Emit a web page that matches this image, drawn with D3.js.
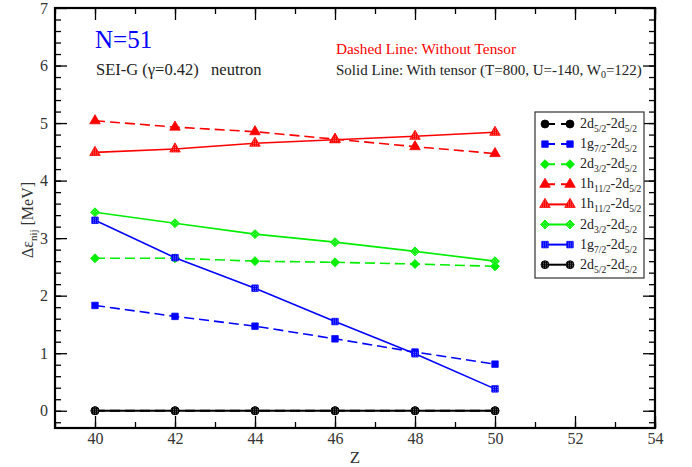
<!DOCTYPE html>
<html>
<head>
<meta charset="utf-8">
<script src="https://cdn.jsdelivr.net/npm/d3@7"></script>
<style>
html,body{margin:0;padding:0;background:#fff;}
svg{display:block;font-family:"Liberation Serif","Times New Roman",serif;}
svg text{font-family:"Liberation Serif","Times New Roman",serif;}
</style>
</head>
<body>
<svg id="chart" width="692" height="467"></svg>
<script>
// ---- data ----
const zValues = [40, 42, 44, 46, 48, 50];
const xTicks = [40, 42, 44, 46, 48, 50, 52, 54];
const yTicks = [0, 1, 2, 3, 4, 5, 6, 7];

const d52_noT = [0, 0, 0, 0, 0, 0];
const g72_noT = [1.83, 1.64, 1.47, 1.25, 1.02, 0.81];
const d32_noT = [2.65, 2.65, 2.60, 2.58, 2.55, 2.51];
const h112_noT = [5.04, 4.93, 4.85, 4.72, 4.59, 4.47];
const h112_T = [4.49, 4.55, 4.65, 4.71, 4.77, 4.84];
const d32_T = [3.45, 3.26, 3.07, 2.93, 2.77, 2.60];
const g72_T = [3.31, 2.66, 2.13, 1.55, 0.99, 0.38];
const d52_T = [0, 0, 0, 0, 0, 0];

const seriesNames = [
  ["2d","5/2","-2d","5/2"],
  ["1g","7/2","-2d","5/2"],
  ["2d","3/2","-2d","5/2"],
  ["1h","11/2","-2d","5/2"],
  ["1h","11/2","-2d","5/2"],
  ["2d","3/2","-2d","5/2"],
  ["1g","7/2","-2d","5/2"],
  ["2d","5/2","-2d","5/2"]
];
const seriesValues = [d52_noT, g72_noT, d32_noT, h112_noT, h112_T, d32_T, g72_T, d52_T];
const seriesColors = ["#000000","#0000ff","#00ee00","#ff0000","#ff0000","#00ee00","#0000ff","#000000"];
const seriesDashed = [true, true, true, true, false, false, false, false];
const seriesSymbols = ["circle","square","diamond","triangle","triangle","diamond","square","circle"];

// ---- layout ----
const svg = d3.select("#chart");
const x = d3.scaleLinear().domain([39, 54]).range([55, 655]);
const y = d3.scaleLinear().domain([-0.3, 7]).range([428, 8]);

const symMap = {circle: d3.symbolCircle, square: d3.symbolSquare, diamond: d3.symbolSquare, triangle: d3.symbolTriangle};
const symSize = {circle: 50, square: 42, diamond: 40, triangle: 48};
const symRot = {circle: 0, square: 0, diamond: 45, triangle: 0};

// pattern fills for solid-line markers
const palette = ["#000000","#0000ff","#00ee00","#ff0000"];
const defs = svg.append("defs");
palette.forEach((c, i) => {
  const p = defs.append("pattern").attr("id", "pat" + i)
    .attr("width", 2).attr("height", 2).attr("patternUnits", "userSpaceOnUse");
  p.append("rect").attr("width", 2).attr("height", 2).attr("fill", c);
  p.append("rect").attr("width", 1).attr("height", 1).attr("fill", "#fff").attr("opacity", 0.45);
});
const patId = c => "url(#pat" + palette.indexOf(c) + ")";

// ---- axes ----
const minorX = d3.range(39, 54.01, 1);
const minorY = d3.range(-0.2, 7.0, 0.2);

function drawAxis(makeGen, transform, majors, minors, labels) {
  const gMinor = svg.append("g").attr("transform", transform)
    .call(makeGen().tickValues(minors).tickSize(-6).tickFormat(""));
  gMinor.select(".domain").remove();
  const g = svg.append("g").attr("transform", transform)
    .call(makeGen().tickValues(majors).tickSize(-12).tickPadding(8).tickFormat(labels ? d3.format("d") : ""));
  g.select(".domain").remove();
  g.attr("font-family", "Liberation Serif").attr("font-size", 16);
  g.selectAll("line").attr("stroke", "#000").attr("stroke-width", 1.3);
  gMinor.selectAll("line").attr("stroke", "#000").attr("stroke-width", 1.3);
  g.selectAll("text").attr("font-size", 16).attr("fill", "#333");
  return g;
}
const bottomG = drawAxis(() => d3.axisBottom(x), "translate(0,428)", xTicks, minorX, true);
bottomG.selectAll("text").attr("dy", "0").attr("y", 16);
drawAxis(() => d3.axisTop(x), "translate(0,8)", xTicks, minorX, false);
const leftG = drawAxis(() => d3.axisLeft(y), "translate(55,0)", yTicks, minorY, true);
leftG.selectAll("text").attr("x", -7);
drawAxis(() => d3.axisRight(y), "translate(655,0)", yTicks, minorY, false);

// frame
svg.append("rect").attr("x", 55).attr("y", 8).attr("width", 600).attr("height", 420)
  .attr("fill", "none").attr("stroke", "#000").attr("stroke-width", 2.2);

// ---- series ----
function marker(sel, s) {
  const sym = seriesSymbols[s];
  sel.attr("d", d3.symbol().type(symMap[sym]).size(symSize[sym]))
    .attr("fill", seriesDashed[s] ? seriesColors[s] : patId(seriesColors[s]))
    .attr("stroke", seriesColors[s]).attr("stroke-width", 0.8);
}
const line = d3.line().x((d, i) => x(zValues[i])).y(d => y(d));
seriesValues.forEach((vals, s) => {
  const g = svg.append("g");
  g.append("path").datum(vals).attr("d", line)
    .attr("fill", "none").attr("stroke", seriesColors[s]).attr("stroke-width", seriesColors[s] === "#000000" ? 2.2 : 1.6)
    .attr("stroke-dasharray", seriesDashed[s] ? "10,5" : null);
  g.selectAll("path.m").data(vals).enter().append("path").attr("class", "m")
    .attr("transform", (d, i) => `translate(${x(zValues[i])},${y(d)}) rotate(${symRot[seriesSymbols[s]]})`)
    .call(marker, s);
});

// ---- axis titles ----
svg.append("text").attr("x", 355).attr("y", 463).attr("text-anchor", "middle")
  .attr("font-size", 17).attr("fill", "#333").text("Z");

const yl = svg.append("text").attr("transform", "translate(33,220) rotate(-90)")
  .attr("text-anchor", "middle").attr("font-size", 16).attr("fill", "#333");
yl.append("tspan").text("Δε");
yl.append("tspan").attr("font-size", 11).attr("dy", 4).text("nij");
yl.append("tspan").attr("dy", -4).text(" [MeV]");

// ---- annotations ----
svg.append("text").attr("x", 95).attr("y", 48).attr("font-size", 25).attr("fill", "#0000ff").text("N=51");
svg.append("text").attr("x", 96).attr("y", 75).attr("font-size", 16.5).attr("fill", "#222")
  .attr("xml:space", "preserve").text("SEI-G (γ=0.42)   neutron");
svg.append("text").attr("x", 336).attr("y", 54).attr("font-size", 15.3).attr("fill", "#ff0000")
  .text("Dashed Line: Without Tensor");
const sl = svg.append("text").attr("x", 336).attr("y", 75).attr("font-size", 15).attr("fill", "#222");
sl.append("tspan").text("Solid Line: With tensor (T=800, U=-140, W");
sl.append("tspan").attr("font-size", 10).attr("dy", 3).text("0");
sl.append("tspan").attr("dy", -3).text("=122)");

// ---- legend ----
svg.append("rect").attr("x", 535).attr("y", 112).attr("width", 109).attr("height", 166)
  .attr("fill", "#fff").attr("stroke", "#333").attr("stroke-width", 1.2);
seriesNames.forEach((nm, s) => {
  const ly = 124 + s * 20.1;
  svg.append("line").attr("x1", 545).attr("x2", 570).attr("y1", ly).attr("y2", ly)
    .attr("stroke", seriesColors[s]).attr("stroke-width", 2)
    .attr("stroke-dasharray", seriesDashed[s] ? "8,6" : null).attr("stroke-dashoffset", seriesDashed[s] ? -2 : null);
  [545, 570].forEach(px => {
    svg.append("path").attr("transform", `translate(${px},${ly}) rotate(${symRot[seriesSymbols[s]]})`)
      .call(marker, s);
  });
  const t = svg.append("text").attr("x", 580).attr("y", ly + 4).attr("font-size", 14).attr("fill", "#222");
  t.append("tspan").text(nm[0]);
  t.append("tspan").attr("font-size", 9.5).attr("dy", 4).text(nm[1]);
  t.append("tspan").attr("dy", -4).text(nm[2]);
  t.append("tspan").attr("font-size", 9.5).attr("dy", 4).text(nm[3]);
});
</script>
</body>
</html>
